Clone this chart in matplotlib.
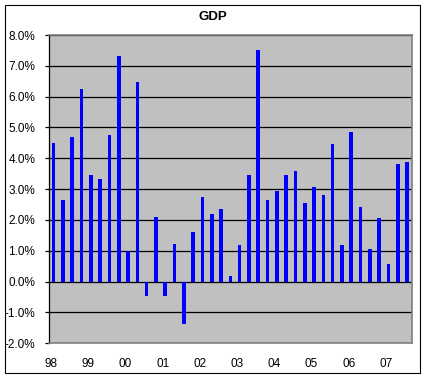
import numpy as np
import matplotlib
matplotlib.use('Agg')
import matplotlib.pyplot as plt
from matplotlib.patches import Rectangle
from matplotlib.ticker import FuncFormatter

# quarterly GDP growth, 1998 Q1 .. 2007 Q3 (percent)
GDP = [4.51, 2.66, 4.70, 6.24, 3.45, 3.34, 4.77, 7.31,
       1.01, 6.46, -0.45, 2.11, -0.48, 1.23, -1.39, 1.60,
       2.76, 2.20, 2.37, 0.19, 1.20, 3.47, 7.50, 2.66,
       2.95, 3.47, 3.60, 2.56, 3.08, 2.82, 4.48, 1.20,
       4.84, 2.43, 1.07, 2.07, 0.58, 3.83, 3.89]
YEAR_LABELS = ['98', '99', '00', '01', '02', '03', '04', '05', '06', '07']
Y_TICKS = np.arange(-2, 9, 1)

W, H = 426, 379
fig = plt.figure(figsize=(W / 100, H / 100), dpi=100)
fig.patch.set_facecolor('white')

# outer chart frame
fig.patches.append(Rectangle((5 / W, 1 - 373 / H), 415 / W, 368 / H,
                             transform=fig.transFigure, fill=False,
                             edgecolor='black', linewidth=0.8))

ax = fig.add_axes([49 / W, 1 - 343.3 / H, 362.7 / W, 308.3 / H])
ax.set_facecolor('#C0C0C0')

x = np.arange(len(GDP))
ax.bar(x, GDP, width=0.38, color='#0000FF', zorder=3)

ax.set_xlim(-0.5, len(GDP) - 0.5)
ax.set_ylim(-2, 8)
ax.set_yticks(Y_TICKS)
ax.yaxis.set_major_formatter(FuncFormatter(lambda v, p: f'{v:.1f}%'))
ax.grid(True, axis='y', color='black', linewidth=0.9, zorder=1)

ax.set_xticks(np.arange(0, len(GDP), 4) - 0.28)
ax.set_xticklabels(YEAR_LABELS)

font = 'Liberation Sans'
ax.tick_params(axis='x', length=0, pad=10.5, labelsize=8.5)
ax.tick_params(axis='y', length=3, width=0.9, direction='out', pad=7,
               labelsize=8.5, color='black')
for lab in ax.get_xticklabels() + ax.get_yticklabels():
    lab.set_fontfamily(font)

for side in ('top', 'right', 'bottom'):
    ax.spines[side].set_color('#808080')
    ax.spines[side].set_linewidth(1.2)
ax.spines['left'].set_color('black')
ax.spines['left'].set_linewidth(0.9)

fig.text(213 / W, 1 - 17 / H, 'GDP', ha='center', va='center',
         fontsize=9.5, fontweight='bold', fontfamily=font)

fig.savefig('out.png', dpi=100)
